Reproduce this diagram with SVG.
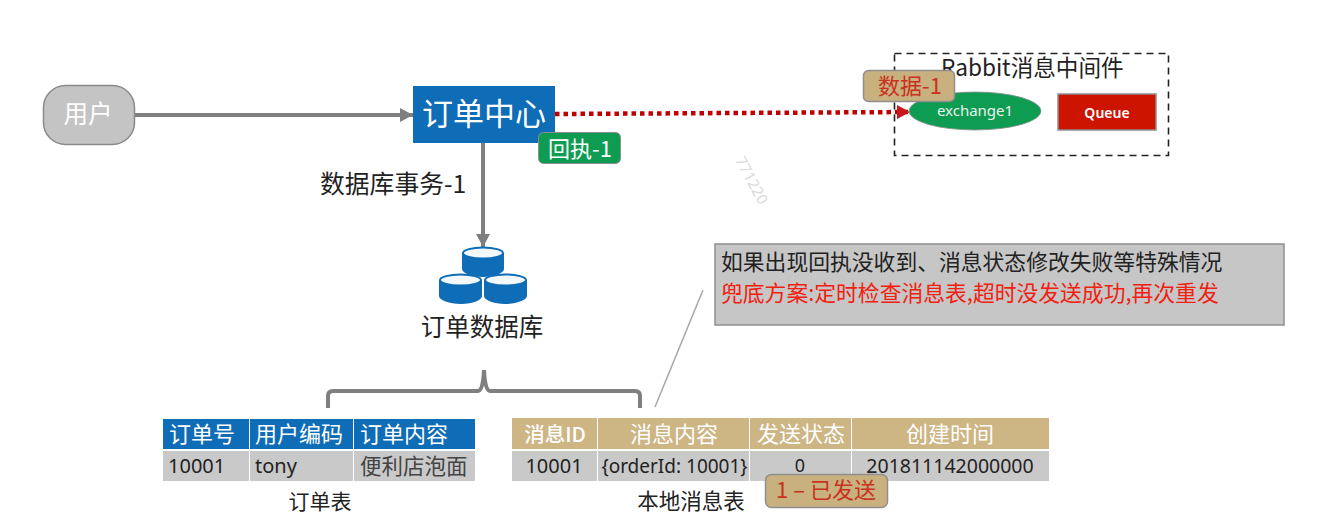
<svg xmlns="http://www.w3.org/2000/svg" width="1324" height="520" viewBox="0 0 1324 520">
<style>
text{font-family:"Noto Sans CJK SC","Noto Sans",sans-serif;fill:#222}
.m{text-anchor:middle}
.lat{font-family:"Noto Sans","Noto Sans CJK SC",sans-serif}
.hb{fill:#0F6CB6}
.hg{fill:#CDB584}
.rw{fill:#C9C9C9}
.th{font-size:22px;fill:#fff;text-anchor:middle}
.tag{fill:#C9B07F;stroke:#8F8F8F;stroke-width:1.5}
.cyl{fill:#0F6CB6}
.cap{fill:#F2F8FC;stroke:#0F6CB6;stroke-width:2}
.gl{fill:none;stroke:#7F7F7F;stroke-width:4}
</style>
<defs>
<marker id="ag" markerUnits="userSpaceOnUse" markerWidth="14" markerHeight="16" refX="13" refY="8" orient="auto"><path d="M0 1L13 8L0 15Z" fill="#7F7F7F"/></marker>
<marker id="ar" markerUnits="userSpaceOnUse" markerWidth="14" markerHeight="14" refX="13" refY="7" orient="auto"><path d="M0 0L13 7L0 14Z" fill="#C8161D"/></marker>
</defs>
<rect width="1324" height="520" fill="#fff"/>
<g id="connectors">
<path class="gl" d="M134 115H413" marker-end="url(#ag)"/>
<path class="gl" d="M483 143V247" marker-end="url(#ag)"/>
<path d="M555 114L910 112" fill="none" stroke="#C00000" stroke-width="4.5" stroke-dasharray="4.5 4" marker-end="url(#ar)"/>
<path d="M328 408V396Q328 391 333 391H478Q483 391 484 370Q485 391 490 391H635Q640 391 640 396V408" fill="none" stroke="#7F7F7F" stroke-width="4"/>
<path d="M655 407L703 290" fill="none" stroke="#A6A6A6" stroke-width="1.5"/>
</g>
<g id="user">
<rect x="43.5" y="85.5" width="91" height="59" rx="22" fill="#C4C4C4" stroke="#8A8A8A" stroke-width="1.5"/>
<text class="m" x="88" y="123" font-size="24.5" style="fill:#fff">用户</text>
</g>
<g id="order-center">
<rect x="413" y="86" width="142" height="57" fill="#0F6CB6"/>
<text class="m" x="484" y="125" font-size="31" style="fill:#fff">订单中心</text>
</g>
<g id="receipt-tag">
<rect x="538.5" y="132.5" width="82" height="31" rx="5" fill="#0E9B52" stroke="#8F8F8F" stroke-width="1"/>
<text class="m" x="580" y="157" font-size="22" style="fill:#fff">回执-1</text>
</g>
<g id="tx-label"><text x="320" y="193" font-size="24.8">数据库事务-1</text></g>
<g id="rabbit">
<rect x="894.5" y="53.5" width="274" height="102" fill="none" stroke="#222" stroke-width="1.6" stroke-dasharray="7 5"/>
<text x="941" y="76" font-size="22.6">Rabbit消息中间件</text>
</g>
<g id="exchange1">
<ellipse cx="975" cy="111" rx="66" ry="19" fill="#0E9B52" stroke="#8F8F8F" stroke-width="0.8"/>
<text class="m lat" x="975" y="116" font-size="15" style="fill:#E8F4EC">exchange1</text>
</g>
<g id="queue">
<rect x="1058" y="94" width="98" height="36" fill="#CC1400" stroke="#8F8F8F" stroke-width="1.5"/>
<text class="m lat" x="1107" y="118" font-size="14" font-weight="600" style="fill:#fff">Queue</text>
</g>
<g id="data-tag">
<rect class="tag" x="863.5" y="70.5" width="91" height="31" rx="5"/>
<text class="m" x="910" y="94" font-size="22" style="fill:#C8321E">数据-1</text>
</g>
<g id="watermark"><text x="735" y="160" font-size="15" transform="rotate(62 735 160)" class="lat" style="fill:#DADADA">771220</text></g>
<g id="order-db">
<path class="cyl" d="M462 253V269C462 273 472 277 483 277S504 273 504 269V253Z"/>
<ellipse class="cap" cx="483" cy="253" rx="20" ry="5.5"/>
<path class="cyl" d="M439 280V296C439 300 449 304 461 304S482 300 482 296V280Z"/>
<ellipse class="cap" cx="460.5" cy="280" rx="20.5" ry="5.5"/>
<path class="cyl" d="M484 280V296C484 300 494 304 505 304S527 300 527 296V280Z"/>
<ellipse class="cap" cx="505.5" cy="280" rx="20.5" ry="5.5"/>
<text class="m" x="482" y="336" font-size="24.5">订单数据库</text>
</g>
<g id="order-table">
<rect class="hb" x="163" y="419" width="86" height="30"/><rect class="hb" x="250" y="419" width="103" height="30"/><rect class="hb" x="354" y="419" width="121" height="30"/>
<rect class="rw" x="163" y="451" width="86" height="30"/><rect class="rw" x="250" y="451" width="103" height="30"/><rect class="rw" x="354" y="451" width="121" height="30"/>
<text class="th" x="202" y="442">订单号</text><text class="th" x="299" y="442">用户编码</text><text class="th" x="404" y="442">订单内容</text>
<text class="lat" x="168" y="473" font-size="20">10001</text><text class="lat" x="255" y="473" font-size="20">tony</text><text x="360" y="474" font-size="21.5" style="fill:#444">便利店泡面</text>
<text class="m" x="320" y="509" font-size="21">订单表</text>
</g>
<g id="message-table">
<rect class="hg" x="512" y="418" width="85" height="31"/><rect class="hg" x="598" y="418" width="151" height="31"/><rect class="hg" x="750" y="418" width="101" height="31"/><rect class="hg" x="852" y="418" width="197" height="31"/>
<rect class="rw" x="512" y="451" width="85" height="30"/><rect class="rw" x="598" y="451" width="151" height="30"/><rect class="rw" x="750" y="451" width="101" height="30"/><rect class="rw" x="852" y="451" width="197" height="30"/>
<text class="th" x="555" y="442" font-weight="500" style="font-size:20.5px">消息ID</text><text class="th" x="674" y="442">消息内容</text><text class="th" x="801" y="442">发送状态</text><text class="th" x="950" y="442">创建时间</text>
<text class="m lat" x="554" y="473" font-size="20">10001</text><text class="m lat" x="674.5" y="473" font-size="19">{orderId: 10001}</text><text class="m lat" x="800" y="472" font-size="18">0</text><text class="m lat" x="950" y="473" font-size="19.5">201811142000000</text>
<text class="m" x="691" y="509" font-size="21.5">本地消息表</text>
</g>
<g id="status-tag">
<rect class="tag" x="765.5" y="474.5" width="122" height="33" rx="6"/>
<text class="m" x="826" y="498" font-size="22" style="fill:#C8321E">1 – 已发送</text>
</g>
<g id="note">
<rect x="715" y="244" width="569" height="81" fill="#C6C6C6" stroke="#8F8F8F" stroke-width="1.5"/>
<text x="721" y="270" font-size="21.8">如果出现回执没收到、消息状态修改失败等特殊情况</text>
<text x="721" y="301" font-size="21.8" style="fill:#F2200F">兜底方案:定时检查消息表,超时没发送成功,再次重发</text>
</g>
</svg>
